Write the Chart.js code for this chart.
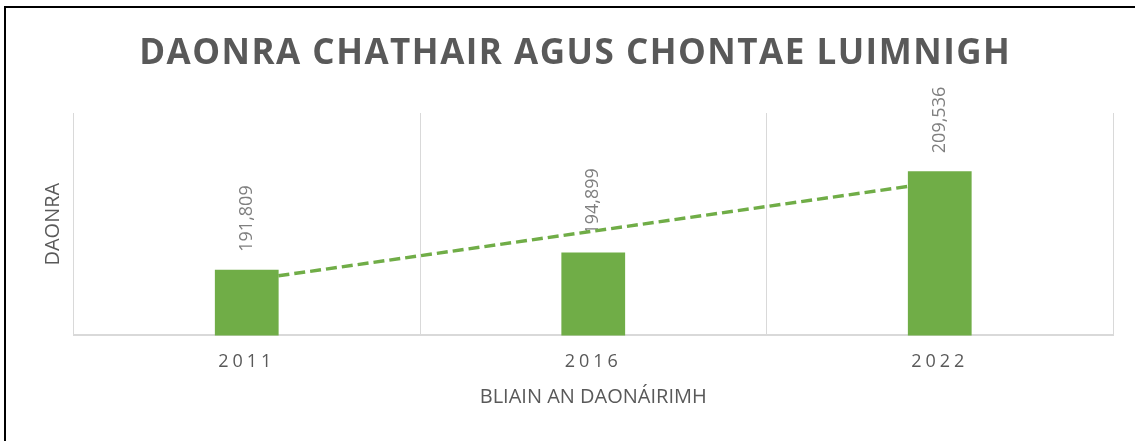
<!DOCTYPE html>
<html>
<head>
<meta charset="utf-8">
<script src="https://cdn.jsdelivr.net/npm/chart.js@4/dist/chart.umd.min.js"></script>
<style>
  html, body { margin: 0; padding: 0; background: #fff; }
  #wrap { position: relative; width: 1135px; height: 441px; overflow: hidden; }
  #wrap canvas { position: absolute; left: 0; top: 0; }
  #frame {
    position: absolute; left: 4px; top: 6px; right: -10px; bottom: -10px;
    border-left: 2px solid #000; border-top: 2px solid #000; pointer-events: none;
  }
</style>
</head>
<body>
<div id="wrap">
  <canvas id="chart" width="1135" height="441"></canvas>
  <div id="frame"></div>
</div>
<script>
  const years = ["2011", "2016", "2022"];
  const population = [191809, 194899, 209536];
  // linear trendline (ends at the first and last bar centres)
  const trend = [189900, 198750, 207600];

  const textColor = "#595959";
  const labelColor = "#7f7f7f";
  const green = "#70ad47";
  const gridColor = "#d9d9d9";

  Chart.defaults.font.family = '"Open Sans", sans-serif';

  const barLabels = {
    id: "barLabels",
    beforeDatasetsDraw(chart) {
      const meta = chart.getDatasetMeta(0);
      const ctx = chart.ctx;
      ctx.save();
      ctx.font = '18px "Open Sans"';
      ctx.fillStyle = labelColor;
      ctx.textAlign = "left";
      ctx.textBaseline = "middle";
      meta.data.forEach((bar, i) => {
        ctx.save();
        ctx.translate(bar.x, bar.y - 18);
        ctx.rotate(-Math.PI / 2);
        ctx.fillText(population[i].toLocaleString("en-US"), 0, 0);
        ctx.restore();
      });
      ctx.restore();
    },
  };

  // Excel spaces out the title and year labels a bit
  function spaced(chart, obj, fn, spacing) {
    const orig = obj[fn].bind(obj);
    obj[fn] = function (...args) {
      chart.ctx.save();
      chart.ctx.letterSpacing = spacing;
      orig(...args);
      chart.ctx.restore();
    };
  }

  const spacedText = {
    id: "spacedText",
    afterLayout(chart) {
      if (chart._spaced) return;
      spaced(chart, chart.scales.x, "drawLabels", "4px");
      spaced(chart, chart.titleBlock, "draw", "1.5px");
      chart._spaced = true;
    },
  };

  new Chart(document.getElementById("chart").getContext("2d"), {
    type: "bar",
    data: {
      labels: years,
      datasets: [
        {
          data: population,
          backgroundColor: green,
          borderWidth: 0,
          categoryPercentage: 1,
          barPercentage: 0.184,
          order: 0,
        },
        {
          type: "line",
          data: trend,
          borderColor: green,
          borderWidth: 3.5,
          borderDash: [11, 5],
          pointRadius: 0,
          fill: false,
          order: 1,
        },
      ],
    },
    options: {
      responsive: false,
      animation: false,
      layout: { padding: { left: 37.5, right: 22, top: 10, bottom: 32 } },
      plugins: {
        legend: { display: false },
        tooltip: { enabled: false },
        title: {
          display: true,
          text: "DAONRA CHATHAIR AGUS CHONTAE LUIMNIGH",
          color: textColor,
          font: { size: 35, weight: "bold" },
          padding: { top: 23.5, bottom: 37.5 },
        },
      },
      scales: {
        x: {
          grid: { color: gridColor, lineWidth: 1, drawTicks: false },
          border: { color: gridColor, width: 2 },
          ticks: { color: textColor, font: { size: 18 }, padding: 16 },
          title: {
            display: true,
            text: "BLIAIN AN DAONÁIRIMH",
            color: textColor,
            font: { size: 20, lineHeight: 0.8 },
            padding: { top: 0, bottom: 4 },
          },
        },
        y: {
          min: 180000,
          max: 220000,
          grid: { display: false },
          border: { display: false },
          ticks: { display: false },
          title: {
            display: true,
            text: "DAONRA",
            color: textColor,
            font: { size: 20 },
            padding: { top: 4, bottom: 0 },
          },
        },
      },
    },
    plugins: [barLabels, spacedText],
  });
</script>
</body>
</html>
